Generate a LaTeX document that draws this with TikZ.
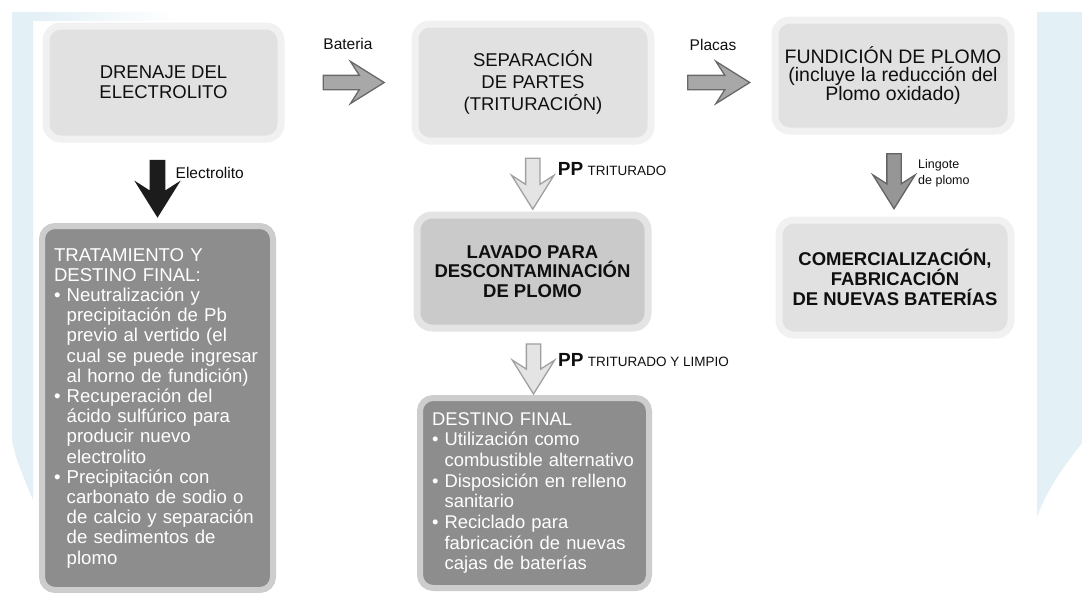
\documentclass[tikz,border=0pt]{standalone}
\usepackage{fontspec}
\setmainfont{Liberation Sans}
\usepackage{tikz}
\usetikzlibrary{shapes.arrows, positioning, calc}
\definecolor{fondoCian}{RGB}{227, 240, 246}
\definecolor{cajaClara}{RGB}{225, 225, 225}
\definecolor{cajaMedia}{RGB}{202, 202, 202}
\definecolor{cajaOscura}{RGB}{141, 141, 141}
\definecolor{bordeClaro}{RGB}{241, 241, 241}
\definecolor{bordeMedio}{RGB}{228, 228, 228}
\definecolor{bordeOscuro}{RGB}{205, 205, 205}
\definecolor{textoNegro}{RGB}{15, 15, 15}
\definecolor{flechaGris}{RGB}{168, 168, 168}
\definecolor{flechaGrisBorde}{RGB}{105, 105, 105}
\definecolor{flechaClara}{RGB}{228, 228, 228}
\definecolor{flechaClaraBorde}{RGB}{160, 160, 160}
\definecolor{flechaMedia}{RGB}{150, 150, 150}
\definecolor{flechaMediaBorde}{RGB}{100, 100, 100}
\definecolor{flechaNegra}{RGB}{28, 28, 28}
\newcommand{\sangria}{\phantom{\textbullet\ }}
\tikzset{
  cajaTitulo/.style={rectangle, rounded corners=15pt, fill=cajaClara, draw=bordeClaro, line width=7pt,
    text=textoNegro, align=center, font=\fontsize{18.5}{20}\selectfont},
  cajaLista/.style={rectangle, rounded corners=13pt, fill=cajaOscura, draw=bordeOscuro, line width=6pt,
    text=white, align=left, inner xsep=12pt, font=\fontsize{18.6}{20.2}\selectfont},
  flecha/.style={single arrow, inner sep=0pt, inner ysep=6.5pt, single arrow head extend=14pt,
    single arrow tip angle=64, single arrow head indent=9pt, minimum height=#1, line width=1.3pt},
  etiqueta/.style={inner sep=0pt, text=textoNegro, font=\fontsize{15.5}{17}\selectfont}
}

\begin{document}
\begin{tikzpicture}[x=1pt, y=-1pt]
  \useasboundingbox (0,0) rectangle (1082,592);
  \fill[white] (0,0) rectangle (1082,592);
  % fondo
  \fill[fondoCian] (12,12) -- (33,12) -- (33,500) .. controls (24,478) and (15,458) .. (12,440) -- cycle;
  \shade[left color=fondoCian, right color=white] (33,12) rectangle (175,20);
  \fill[fondoCian] (1037,12) -- (1082,12) -- (1082,443) .. controls (1062,468) and (1046,492) .. (1037,517) -- cycle;

  % cajas
  \node[cajaTitulo, minimum width=235pt, minimum height=113pt] (drenaje) at (163.5,82.5) {DRENAJE DEL\\ELECTROLITO};
  \node[cajaTitulo, minimum width=236pt, minimum height=117pt, font=\fontsize{18.5}{22}\selectfont] (separacion) at (533,82.5) {SEPARACIÓN\\DE PARTES\\(TRITURACIÓN)};
  \node[cajaTitulo, minimum width=236pt, minimum height=111pt, font=\fontsize{19.5}{18}\selectfont] (fundicion) at (893,75.5) {FUNDICIÓN DE PLOMO\\(incluye la reducción del\\Plomo oxidado)};
  \node[cajaTitulo, minimum width=231pt, minimum height=113pt, fill=cajaMedia, draw=bordeMedio, font=\bfseries\fontsize{18.5}{19.5}\selectfont] (lavado) at (532.5,271.5) {LAVADO PARA\\DESCONTAMINACIÓN\\DE PLOMO};
  \node[cajaTitulo, minimum width=232pt, minimum height=115pt, font=\bfseries\fontsize{18.5}{20}\selectfont] (comercializacion) at (895,277.5) {COMERCIALIZACIÓN,\\FABRICACIÓN\\DE NUEVAS BATERÍAS};
  \node[cajaLista, minimum width=231pt, minimum height=364pt, text width=207pt] (tratamiento) at (157.5,408) {%
    TRATAMIENTO Y\\DESTINO FINAL:\\
    \textbullet\ Neutralización y\\\sangria precipitación de Pb\\\sangria previo al vertido (el\\\sangria cual se puede ingresar\\\sangria al horno de fundición)\\
    \textbullet\ Recuperación del\\\sangria ácido sulfúrico para\\\sangria producir nuevo\\\sangria electrolito\\
    \textbullet\ Precipitación con\\\sangria carbonato de sodio o\\\sangria de calcio y separación\\\sangria de sedimentos de\\\sangria plomo};
  \node[cajaLista, minimum width=229pt, minimum height=190pt, text width=205pt, font=\fontsize{18.4}{20.7}\selectfont] (destino) at (534.5,493) {%
    DESTINO FINAL\\
    \textbullet\ Utilización como\\\sangria combustible alternativo\\
    \textbullet\ Disposición en relleno\\\sangria sanitario\\
    \textbullet\ Reciclado para\\\sangria fabricación de nuevas\\\sangria cajas de baterías};

  % flechas
  \path (drenaje.east) -- (separacion.west) node[midway, flecha=61pt, fill=flechaGris, draw=flechaGrisBorde] (fBateria) {};
  \path (separacion.east) -- (fundicion.west |- separacion.east) node[midway, flecha=62pt, fill=flechaGris, draw=flechaGrisBorde] (fPlacas) {};
  \path (drenaje.south -| tratamiento.north) -- (tratamiento.north) node[midway, flecha=56pt, fill=flechaNegra, draw=flechaNegra, rotate=-90] (fElectrolito) {};
  \path (separacion.south) -- (lavado.north) node[midway, flecha=51pt, fill=flechaClara, draw=flechaClaraBorde, rotate=-90] (fTriturado) {};
  \path (lavado.south) -- (destino.north) node[midway, flecha=50pt, fill=flechaClara, draw=flechaClaraBorde, rotate=-90] (fLimpio) {};
  \path (fundicion.south) -- (comercializacion.north) node[midway, flecha=55pt, fill=flechaMedia, draw=flechaMediaBorde, rotate=-90] (fLingote) {};

  % etiquetas
  \node[etiqueta, anchor=base] (tBateria) at ([yshift=33pt]fBateria.center) {Bateria};
  \node[etiqueta, anchor=base] (tPlacas) at ([yshift=32pt]fPlacas.center) {Placas};
  \node[etiqueta, anchor=base west] (tElectrolito) at ([xshift=18pt, yshift=4pt]fElectrolito.center) {Electrolito};
  \node[etiqueta, anchor=base west] (tTriturado) at ([xshift=25pt, yshift=3pt]fTriturado.center) {{\bfseries\fontsize{19}{19}\selectfont PP} {\fontsize{13.5}{14}\selectfont TRITURADO}};
  \node[etiqueta, anchor=base west] (tLimpio) at ([xshift=24.5pt, yshift=-3pt]fLimpio.center) {{\bfseries\fontsize{19}{19}\selectfont PP} {\fontsize{13.5}{14}\selectfont TRITURADO Y LIMPIO}};
  \node[etiqueta, anchor=north west, align=left, font=\fontsize{12.5}{16.5}\selectfont] (tLingote) at ([xshift=24pt, yshift=16.5pt]fLingote.center) {Lingote\\de plomo};
\end{tikzpicture}
\end{document}
